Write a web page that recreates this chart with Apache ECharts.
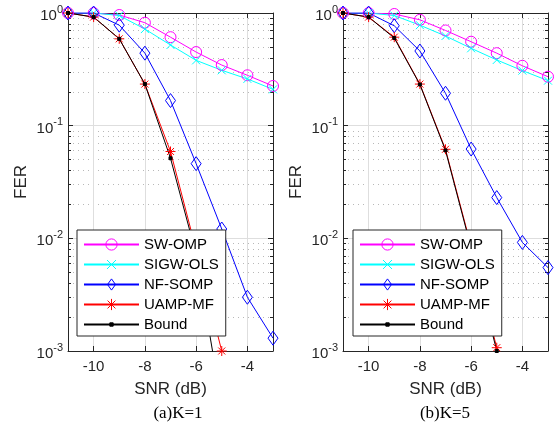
<!DOCTYPE html>
<html>
<head>
<meta charset="utf-8">
<script src="https://cdn.jsdelivr.net/npm/echarts@6/dist/echarts.min.js"></script>
<style>
  html, body { margin: 0; background: #fff; }
  #chart { width: 557px; height: 426px; }
</style>
</head>
<body>
<div id="chart"></div>
<script>
// SNR points (dB)
const snr = [-11, -10, -9, -8, -7, -6, -5, -4, -3];
const xTicks = [-10, -8, -6, -4];
const yMinorTicks = [
  0.002, 0.003, 0.004, 0.005, 0.006, 0.007, 0.008, 0.009,
  0.02, 0.03, 0.04, 0.05, 0.06, 0.07, 0.08, 0.09,
  0.2, 0.3, 0.4, 0.5, 0.6, 0.7, 0.8, 0.9
];
const names = ['SW-OMP', 'SIGW-OLS', 'NF-SOMP', 'UAMP-MF', 'Bound'];
const captions = ['(a)K=1', '(b)K=5'];

// (a) K=1
const swOmpK1 = [1, 1, 0.96, 0.82, 0.61, 0.45, 0.345, 0.28, 0.225];
const sigwOlsK1 = [1, 1, 0.95, 0.72, 0.52, 0.38, 0.31, 0.26, 0.21];
const nfSompK1 = [1, 1, 0.78, 0.44, 0.167, 0.046, 0.0121, 0.003, 0.0013];
const uampMfK1 = [1, 0.92, 0.59, 0.234, 0.059, 0.0079, 0.001];
const boundK1 = [1, 0.92, 0.59, 0.234, 0.0514, 0.0072, 0.00033];

// (b) K=5
const swOmpK5 = [1, 1, 0.98, 0.87, 0.70, 0.556, 0.44, 0.34, 0.272];
const sigwOlsK5 = [1, 1, 0.95, 0.78, 0.625, 0.486, 0.383, 0.308, 0.251];
const nfSompK5 = [1, 1, 0.77, 0.46, 0.194, 0.062, 0.023, 0.0092, 0.0055];
const uampMfK5 = [1, 0.92, 0.61, 0.234, 0.0617, 0.0085, 0.00107];
const boundK5 = [1, 0.92, 0.60, 0.232, 0.0603, 0.0082, 0.001];

const panels = [
  [swOmpK1, sigwOlsK1, nfSompK1, uampMfK1, boundK1],
  [swOmpK5, sigwOlsK5, nfSompK5, uampMfK5, boundK5]
];

const font = 'Liberation Sans, Arial, sans-serif';
const ink = '#262626';
const gridLefts = [68, 343];
const legendLefts = [77, 353];
const captionX = [178, 445];

// marker shapes (padded paths keep legend icons small)
const marks = [
  {color: '#ff00ff', symbol: 'circle', size: 11, fill: 'rgba(0,0,0,0)'},
  {color: '#00ffff', symbol: 'path://M0,0M10,10M1,1L9,9M9,1L1,9', size: 10},
  {color: '#0000ff', symbol: 'path://M0,0M14,14M7,0L12,7L7,14L2,7Z', size: 14, fill: 'rgba(0,0,0,0)'},
  {color: '#ff0000', symbol: 'path://M5,0L5,10M0,5L10,5M1.5,1.5L8.5,8.5M8.5,1.5L1.5,8.5', size: 10},
  {color: '#000000', symbol: 'path://M0,0M10,10M3.5,3.5L6.5,3.5L6.5,6.5L3.5,6.5Z', size: 10}
];

const chart = echarts.init(document.getElementById('chart'));

const grids = [], xAxes = [], yAxes = [], series = [], legends = [], texts = [];

panels.forEach((sets, g) => {
  grids.push({left: gridLefts[g], top: 13, width: 205, height: 338});

  xAxes.push({
    gridIndex: g, type: 'value', min: -11, max: -3, position: 'bottom',
    name: 'SNR (dB)', nameLocation: 'middle', nameGap: 30,
    nameTextStyle: {fontSize: 17, color: ink, fontFamily: font},
    axisLine: {onZero: false, lineStyle: {color: ink, width: 1}},
    axisTick: {inside: true, length: 5, customValues: xTicks, lineStyle: {color: ink}},
    axisLabel: {customValues: xTicks, fontSize: 15, color: ink, margin: 8, fontFamily: font},
    splitLine: {show: true, lineStyle: {color: '#dedede', width: 1}}
  });
  xAxes.push({
    gridIndex: g, type: 'value', min: -11, max: -3, position: 'top',
    axisLine: {onZero: false, lineStyle: {color: ink, width: 1}},
    axisTick: {inside: true, length: 5, customValues: xTicks, lineStyle: {color: ink}},
    axisLabel: {show: false},
    splitLine: {show: false}
  });

  const logBase = {gridIndex: g, type: 'log', logBase: 10, min: 0.001, max: 1};
  yAxes.push(Object.assign({}, logBase, {
    position: 'left',
    name: 'FER', nameLocation: 'middle', nameGap: 38,
    nameTextStyle: {fontSize: 17, color: ink, fontFamily: font},
    axisLine: {onZero: false, lineStyle: {color: ink, width: 1}},
    axisTick: {inside: true, length: 5, lineStyle: {color: ink}},
    axisLabel: {
      margin: 5,
      formatter: v => '{b|10}{s|' + Math.round(Math.log10(v)) + '}',
      rich: {
        b: {fontSize: 15, color: ink, fontFamily: font, padding: [6, 0, 0, 0]},
        s: {fontSize: 11, color: ink, fontFamily: font, padding: [0, 0, 7, 0]}
      }
    },
    splitLine: {show: true, lineStyle: {color: '#dedede', width: 1}}
  }));
  yAxes.push(Object.assign({}, logBase, {
    position: 'left',
    axisLine: {show: false},
    axisTick: {inside: true, length: 3, customValues: yMinorTicks, lineStyle: {color: ink}},
    axisLabel: {show: false},
    splitLine: {show: true, lineStyle: {color: '#b8b8b8', width: 1, type: [1, 4]}}
  }));
  yAxes.push(Object.assign({}, logBase, {
    position: 'right',
    axisLine: {onZero: false, lineStyle: {color: ink, width: 1}},
    axisTick: {inside: true, length: 5, lineStyle: {color: ink}},
    axisLabel: {show: false},
    splitLine: {show: false}
  }));
  yAxes.push(Object.assign({}, logBase, {
    position: 'right',
    axisLine: {show: false},
    axisTick: {inside: true, length: 3, customValues: yMinorTicks, lineStyle: {color: ink}},
    axisLabel: {show: false},
    splitLine: {show: false}
  }));

  sets.forEach((ys, k) => {
    const m = marks[k];
    series.push({
      name: names[k], type: 'line',
      xAxisIndex: 2 * g, yAxisIndex: 4 * g,
      data: ys.map((y, i) => [snr[i], y]),
      symbol: m.symbol, symbolSize: m.size, showAllSymbol: true,
      lineStyle: {color: m.color, width: 1},
      itemStyle: {color: m.fill || m.color, borderColor: m.color, borderWidth: 1},
      emphasis: {disabled: true},
      z: 2
    });
  });

  legends.push({
    data: names, orient: 'vertical', left: legendLefts[g], top: 230,
    itemWidth: 55, itemHeight: 14, itemGap: 5,
    padding: [7, 7, 4, 6],
    backgroundColor: '#fff', borderColor: ink, borderWidth: 1, borderRadius: 0,
    textStyle: {fontSize: 15, color: '#000', fontFamily: font},
    itemStyle: {borderWidth: 1},
    selectedMode: false,
    z: 10
  });

  texts.push({
    type: 'text', x: captionX[g], y: 414,
    style: {
      text: captions[g], fill: '#000',
      font: '17px "Liberation Serif", "Times New Roman", serif',
      textAlign: 'center', textVerticalAlign: 'middle'
    }
  });
});

chart.setOption({
  animation: false,
  backgroundColor: '#fff',
  grid: grids,
  xAxis: xAxes,
  yAxis: yAxes,
  legend: legends,
  series: series,
  graphic: texts
});
</script>
</body>
</html>
